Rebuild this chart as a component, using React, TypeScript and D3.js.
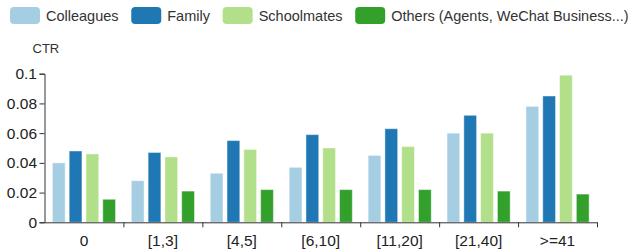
import React, { useRef, useEffect } from "react";
import * as d3 from "d3";

// categories / series
const groups = ["0", "[1,3]", "[4,5]", "[6,10]", "[11,20]", "[21,40]", ">=41"];
const seriesNames = ["Colleagues", "Family", "Schoolmates", "Others (Agents, WeChat Business...)"];

const colleagues = [0.040, 0.028, 0.033, 0.037, 0.045, 0.060, 0.078];
const family = [0.048, 0.047, 0.055, 0.059, 0.063, 0.072, 0.085];
const schoolmates = [0.046, 0.044, 0.049, 0.050, 0.051, 0.060, 0.099];
const others = [0.0155, 0.021, 0.022, 0.022, 0.022, 0.021, 0.019];

const yTicks = [0, 0.02, 0.04, 0.06, 0.08, 0.1];
const colors = ["#a6cee3", "#1f78b4", "#b2df8a", "#33a02c"];

const W = 633;
const H = 252;
const FONT = "'Liberation Sans', Arial, sans-serif";

const App = () => {
  const svgRef = useRef<SVGSVGElement>(null);

  useEffect(() => {
    const svg = d3.select(svgRef.current);
    svg.selectAll("*").remove();

    const values = [colleagues, family, schoolmates, others];

    //scales
    const left = 44.5;
    const right = 597;
    const x0 = d3.scaleBand().domain(groups).range([left, right]).paddingInner(0.2).paddingOuter(0.1);
    const x1 = d3.scaleBand().domain(seriesNames).range([0, x0.bandwidth()]).paddingInner(0.24);
    const y = d3.scaleLinear().domain([0, 0.1]).range([222.3, 73.7]);
    const xb = d3.scaleLinear().domain([0, groups.length]).range([left, right]);

    //legend
    const legend = svg.append("g").attr("transform", "translate(10,7)");
    let lx = 0;
    seriesNames.forEach((name, i) => {
      const item = legend.append("g").attr("transform", `translate(${lx},0)`);
      item.append("rect")
        .attr("width", 30).attr("height", 17).attr("rx", 4)
        .attr("fill", colors[i]);
      const t = item.append("text")
        .attr("x", 36).attr("y", 8.5).attr("dy", "0.35em")
        .attr("font-family", FONT).attr("font-size", 14.5).attr("fill", "#333")
        .text(name);
      const w = (t.node() as SVGTextElement).getComputedTextLength();
      lx += 36 + w + 12.7;
    });

    //y axis
    const yAxis = d3.axisLeft(y).tickValues(yTicks).tickFormat(d3.format("~g") as any)
      .tickSize(5).tickPadding(2.5);
    const gy = svg.append("g").attr("transform", `translate(${left},0)`).call(yAxis);
    gy.selectAll("text").attr("font-family", FONT).attr("font-size", 15.5).attr("fill", "#222");
    gy.selectAll("line,path").attr("stroke", "#333");

    svg.append("text")
      .attr("x", 32.5).attr("y", 52.7)
      .attr("font-family", FONT).attr("font-size", 13).attr("fill", "#333")
      .text("CTR");

    //bars
    svg.append("g")
      .selectAll("g")
      .data(groups)
      .join("g")
      .attr("transform", (g) => `translate(${x0(g)},0)`)
      .selectAll("rect")
      .data((g, gi) => seriesNames.map((s, si) => ({ s, si, v: values[si][groups.indexOf(g)] })))
      .join("rect")
      .attr("x", (d) => x1(d.s)!)
      .attr("width", x1.bandwidth())
      .attr("y", (d) => y(d.v))
      .attr("height", (d) => y(0) - y(d.v))
      .attr("fill", (d) => colors[d.si])
      .attr("stroke", "#fff")
      .attr("stroke-opacity", 0.45)
      .attr("stroke-width", 1);

    //x axis: boundary ticks + labels
    const xTickAxis = d3.axisBottom(xb).tickValues(d3.range(1, groups.length + 1))
      .tickFormat(() => "").tickSize(5).tickSizeOuter(0);
    const gxb = svg.append("g").attr("transform", `translate(0,${y(0)})`).call(xTickAxis);
    gxb.selectAll("line,path").attr("stroke", "#333");

    const xAxis = d3.axisBottom(x0).tickSize(0).tickPadding(12.5);
    const gx = svg.append("g").attr("transform", `translate(0,${y(0)})`).call(xAxis);
    gx.select(".domain").remove();
    gx.selectAll("text").attr("font-family", FONT).attr("font-size", 15.5).attr("fill", "#222");
  }, []);

  return (
    <svg
      ref={svgRef}
      width={W}
      height={H}
      style={{ position: "absolute", left: 0, top: 0, background: "#fff" }}
    />
  );
};

export default App;
